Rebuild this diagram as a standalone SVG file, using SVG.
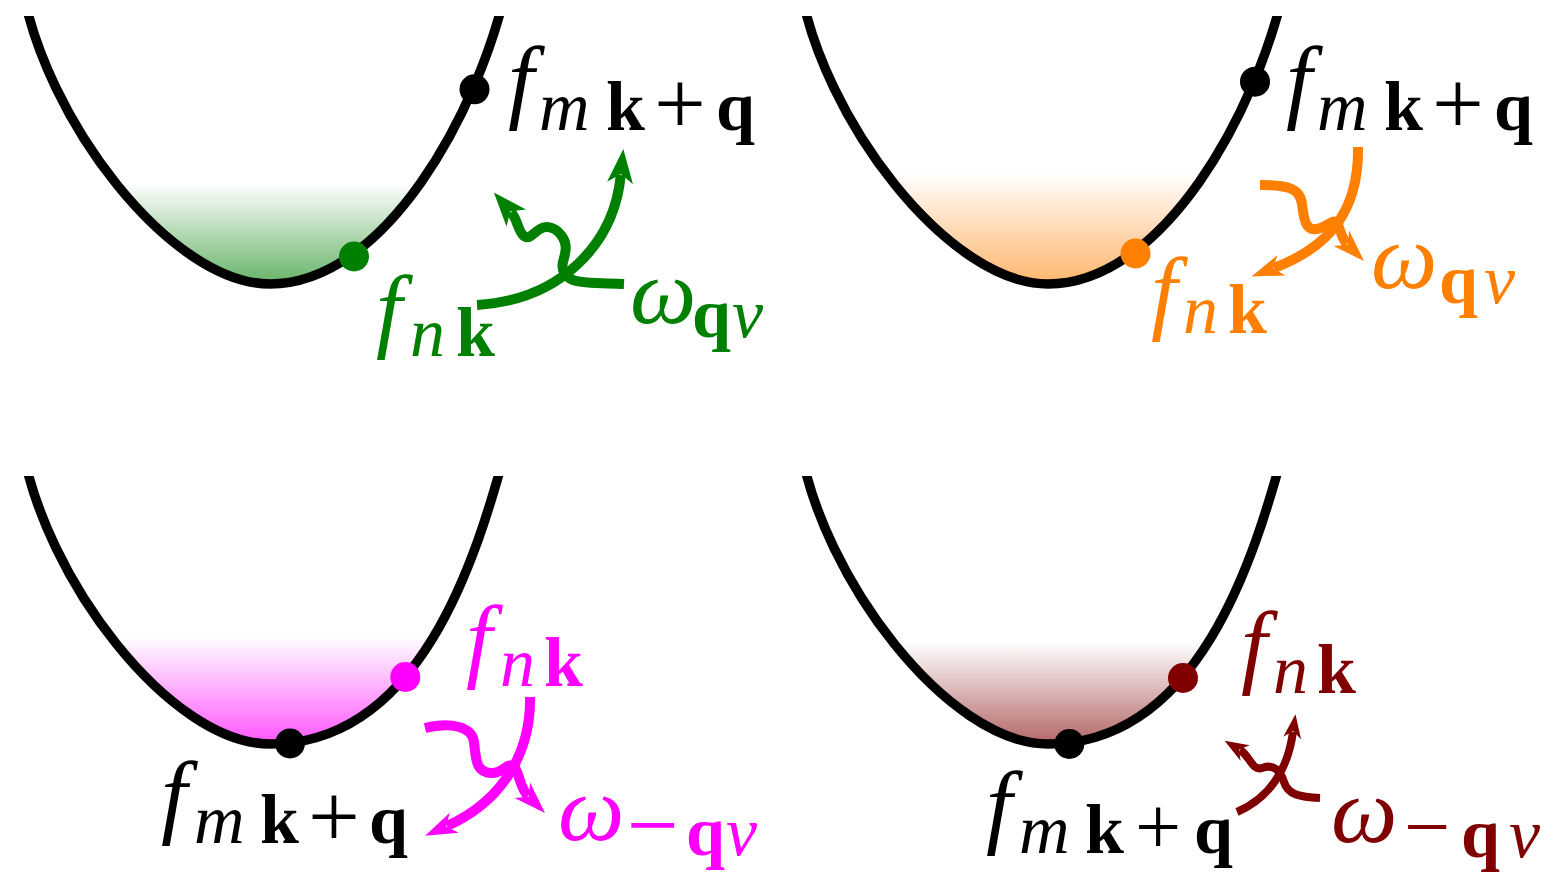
<svg xmlns="http://www.w3.org/2000/svg" xmlns:xlink="http://www.w3.org/1999/xlink" width="1553" height="873" viewBox="0 0 1553 873">
<style>
.curve{fill:none;stroke:#000;stroke-width:9.5}
.ln{fill:none;stroke-linecap:butt;stroke-linejoin:round}
.g{stroke:#008000}.o{stroke:#ff7f00}.p{stroke:#ff00ff}.r{stroke:#800000}
.w1{stroke-width:10}.w2{stroke-width:8}
text{font-family:"Liberation Serif","Times New Roman",serif}
.it{font-style:italic}
.bf{font-weight:bold}
.big{font-size:94px}
.sm{font-size:70px}
.pl{font-size:92px}
.pl2{font-size:82px}
</style>
<defs>
<path id="bowlT" d="M22,-15 C44,118 170,284 270,284 C385,284 479,112.4 507,-15"/>
<path id="bowlB" d="M22,-15 C44,118 170,284 270,284 C420,284 476,100 507,-15"/>
<clipPath id="insideT"><use xlink:href="#bowlT"/></clipPath>
<clipPath id="insideB"><use xlink:href="#bowlB"/></clipPath>
<clipPath id="cut"><rect x="-50" y="16" width="700" height="400"/></clipPath>
<linearGradient id="gG" x1="0" y1="0" x2="0" y2="1"><stop offset="0" stop-color="#008000" stop-opacity="0"/><stop offset="1" stop-color="#008000" stop-opacity="0.65"/></linearGradient>
<linearGradient id="gO" x1="0" y1="0" x2="0" y2="1"><stop offset="0" stop-color="#ff7f00" stop-opacity="0"/><stop offset="1" stop-color="#ff7f00" stop-opacity="0.62"/></linearGradient>
<linearGradient id="gP" x1="0" y1="0" x2="0" y2="1"><stop offset="0" stop-color="#ff00ff" stop-opacity="0"/><stop offset="1" stop-color="#ff00ff" stop-opacity="0.72"/></linearGradient>
<linearGradient id="gR" x1="0" y1="0" x2="0" y2="1"><stop offset="0" stop-color="#800000" stop-opacity="0"/><stop offset="1" stop-color="#800000" stop-opacity="0.65"/></linearGradient>
<marker id="aG" markerUnits="userSpaceOnUse" markerWidth="40" markerHeight="30" viewBox="0 -15 40 30" refX="8" refY="0" orient="auto" overflow="visible"><path d="M0,-13 L34,0 L0,13 L9,0 Z" fill="#008000"/></marker>
<marker id="aO" markerUnits="userSpaceOnUse" markerWidth="40" markerHeight="30" viewBox="0 -15 40 30" refX="8" refY="0" orient="auto" overflow="visible"><path d="M0,-11 L32,0 L0,11 L9,0 Z" fill="#ff7f00"/></marker>
<marker id="aP" markerUnits="userSpaceOnUse" markerWidth="40" markerHeight="30" viewBox="0 -15 40 30" refX="8" refY="0" orient="auto" overflow="visible"><path d="M0,-11 L32,0 L0,11 L9,0 Z" fill="#ff00ff"/></marker>
<marker id="aR" markerUnits="userSpaceOnUse" markerWidth="30" markerHeight="24" viewBox="0 -12 30 24" refX="6" refY="0" orient="auto" overflow="visible"><path d="M0,-9 L24,0 L0,9 L7,0 Z" fill="#800000"/></marker>
</defs>

<g id="panel-tl">
<rect x="0" y="183" width="540" height="110" fill="url(#gG)" clip-path="url(#insideT)"/>
<use xlink:href="#bowlT" class="curve" clip-path="url(#cut)"/>
</g>
<g id="panel-tr" transform="translate(778,0)">
<rect x="0" y="173" width="540" height="120" fill="url(#gO)" clip-path="url(#insideT)"/>
<use xlink:href="#bowlT" class="curve" clip-path="url(#cut)"/>
</g>
<g id="panel-bl" transform="translate(0,460)">
<rect x="0" y="177" width="540" height="116" fill="url(#gP)" clip-path="url(#insideB)"/>
<use xlink:href="#bowlB" class="curve" clip-path="url(#cut)"/>
</g>
<g id="panel-br" transform="translate(778,460)">
<rect x="0" y="182" width="540" height="111" fill="url(#gR)" clip-path="url(#insideB)"/>
<use xlink:href="#bowlB" class="curve" clip-path="url(#cut)"/>
</g>

<g id="dots">
<circle id="dot-tl-m" cx="474.5" cy="89.3" r="15" fill="#000"/>
<circle id="dot-tl-n" cx="354" cy="256.5" r="15" fill="#008000"/>
<circle id="dot-tr-m" cx="1255" cy="81.7" r="15" fill="#000"/>
<circle id="dot-tr-n" cx="1135.5" cy="253.5" r="15" fill="#ff7f00"/>
<circle id="dot-bl-n" cx="405.3" cy="677" r="15" fill="#ff00ff"/>
<circle id="dot-bl-m" cx="290" cy="743.5" r="15" fill="#000"/>
<circle id="dot-br-n" cx="1183" cy="678" r="15" fill="#800000"/>
<circle id="dot-br-m" cx="1069.3" cy="744" r="15" fill="#000"/>
</g>

<g id="connectors">
<path class="ln g w1" d="M477,305 C560,300 614,245 620.8,175" marker-end="url(#aG)"/>
<path class="ln g w1" d="M624,284 C605,283 585,284 573,280 C565,277 561,270 563,262 C565,254 568,246 563,238 C558,229 548,224 540,229 C533,233 530,240 524,236 C518,232 518,220 511,212" marker-end="url(#aG)"/>
<path class="ln o w1" d="M1358,147 C1359,205 1335,245 1274,268" marker-end="url(#aO)"/>
<path class="ln o w1" d="M1260,185 C1285,185 1300,187 1302,204 C1304,221 1306,231 1317,229 C1328,227 1333,218 1337,223 C1341,230 1341,238 1347,244" marker-end="url(#aO)"/>
<path class="ln p w1" d="M530,697 C531,750 505,800 447,826" marker-end="url(#aP)"/>
<path class="ln p w1" d="M425,728 C450,722 472,726 474,742 C476,760 476,773 492,773 C504,773 508,760 515,768 C520,776 520,788 528,796" marker-end="url(#aP)"/>
<path class="ln r w2" d="M1237,812 C1265,800 1287,775 1293,732" marker-end="url(#aR)"/>
<path class="ln r w2" d="M1320,798 C1300,797 1288,795 1284,782 C1280,769 1272,764 1262,768 C1252,771 1250,756 1240,750" marker-end="url(#aR)"/>
</g>

<g id="labels">
<text id="lbl-tl-m" fill="#000"><tspan class="it big" x="508" y="111">f</tspan><tspan class="it sm" x="539" y="130">m</tspan><tspan class="bf sm" x="606" y="130">k</tspan><tspan class="pl" x="654" y="134">+</tspan><tspan class="bf sm" x="716" y="130">q</tspan></text>
<text id="lbl-tr-m" fill="#000"><tspan class="it big" x="1286" y="111">f</tspan><tspan class="it sm" x="1317" y="130">m</tspan><tspan class="bf sm" x="1384" y="130">k</tspan><tspan class="pl" x="1432" y="134">+</tspan><tspan class="bf sm" x="1494" y="130">q</tspan></text>
<text id="lbl-tl-n" fill="#008000"><tspan class="it big" x="376" y="340">f</tspan><tspan class="it sm" x="410" y="356">n</tspan><tspan class="bf sm" x="456" y="356">k</tspan></text>
<text id="lbl-tl-w" fill="#008000"><tspan class="it big" x="630" y="323">ω</tspan><tspan class="bf sm" x="692" y="337">q</tspan><tspan class="it sm" x="732" y="337">ν</tspan></text>
<text id="lbl-tr-n" fill="#ff7f00"><tspan class="it big" x="1151" y="322">f</tspan><tspan class="it sm" x="1183" y="333">n</tspan><tspan class="bf sm" x="1228" y="333">k</tspan></text>
<text id="lbl-tr-w" fill="#ff7f00"><tspan class="it big" x="1371" y="288">ω</tspan><tspan class="bf sm" x="1439" y="303">q</tspan><tspan class="it sm" x="1484" y="303">ν</tspan></text>
<text id="lbl-bl-n" fill="#ff00ff"><tspan class="it big" x="466" y="670">f</tspan><tspan class="it sm" x="500" y="686">n</tspan><tspan class="bf sm" x="544" y="686">k</tspan></text>
<text id="lbl-bl-m" fill="#000"><tspan class="it big" x="161" y="826">f</tspan><tspan class="it sm" x="194" y="843">m</tspan><tspan class="bf sm" x="260" y="843">k</tspan><tspan class="pl" x="308" y="847">+</tspan><tspan class="bf sm" x="369" y="843">q</tspan></text>
<text id="lbl-bl-w" fill="#ff00ff"><tspan class="it big" x="558" y="840">ω</tspan><tspan class="pl" x="627" y="856">−</tspan><tspan class="bf sm" x="686" y="855">q</tspan><tspan class="it sm" x="726" y="855">ν</tspan></text>
<text id="lbl-br-n" fill="#800000"><tspan class="it big" x="1241" y="676">f</tspan><tspan class="it sm" x="1273" y="693">n</tspan><tspan class="bf sm" x="1317" y="693">k</tspan></text>
<text id="lbl-br-m" fill="#000"><tspan class="it big" x="986" y="836">f</tspan><tspan class="it sm" x="1019" y="853">m</tspan><tspan class="bf sm" x="1085" y="853">k</tspan><tspan class="pl2" x="1135" y="854">+</tspan><tspan class="bf sm" x="1194" y="853">q</tspan></text>
<text id="lbl-br-w" fill="#800000"><tspan class="it big" x="1331" y="842">ω</tspan><tspan class="pl2" x="1404" y="854">−</tspan><tspan class="bf sm" x="1461" y="857">q</tspan><tspan class="it sm" x="1509" y="857">ν</tspan></text>
</g>
</svg>
